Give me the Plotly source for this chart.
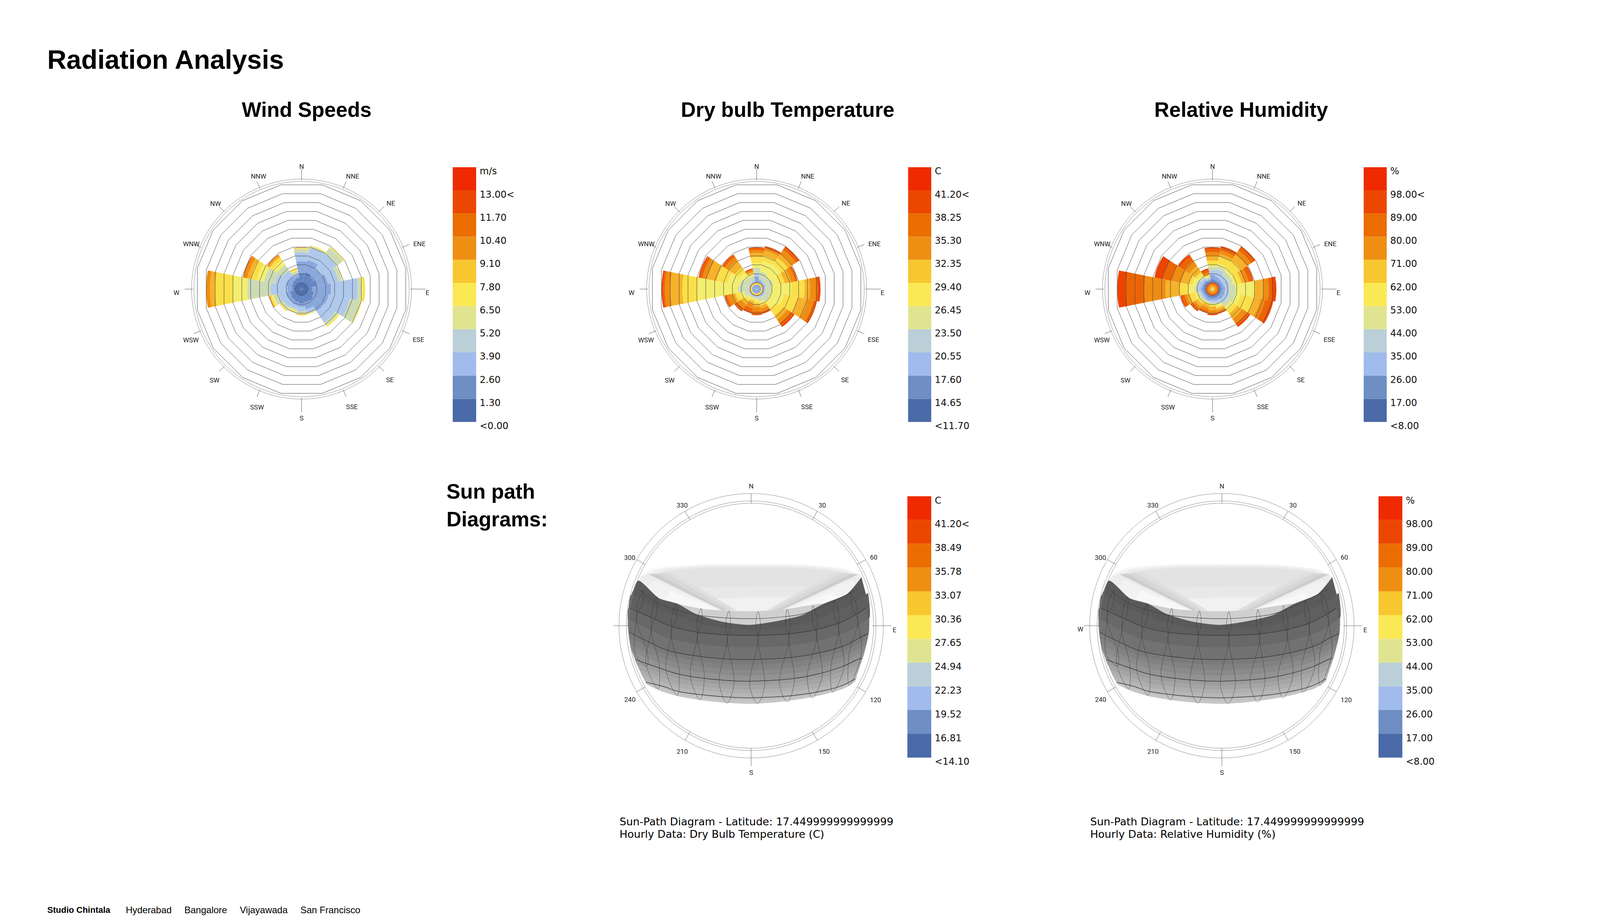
import numpy as np
import plotly.graph_objects as go

W = 4134
H = 2362

# directions clockwise from north
directions = ['N', 'NNE', 'NE', 'ENE', 'E', 'ESE', 'SE', 'SSE', 'S', 'SSW', 'SW', 'WSW', 'W', 'WNW', 'NW', 'NNW']
dir_theta = [22.5 * i for i in range(16)]

# colour classes used inside the roses, low to high
rose_colors = ['#4A6AA8', '#6486C4', '#8AA7DC', '#AFC8EC', '#CDDBB5', '#F3EE6E', '#FBDF48', '#F5B22A', '#EF8C12', '#EB6505', '#EC4400']
# colour blocks of the legends, low to high
legend_colors = ['#4A6AA8', '#6E8EC4', '#A0BBEC', '#BACFD8', '#E0E490', '#FAE855', '#F7C72F', '#EE8F14', '#EB6D00', '#EC4700', '#EF2A00']

# legend labels, bottom to top
wind_labels = ['<0.00', '1.30', '2.60', '3.90', '5.20', '6.50', '7.80', '9.10', '10.40', '11.70', '13.00<', 'm/s']
temp_labels = ['<11.70', '14.65', '17.60', '20.55', '23.50', '26.45', '29.40', '32.35', '35.30', '38.25', '41.20<', 'C']
hum_labels = ['<8.00', '17.00', '26.00', '35.00', '44.00', '53.00', '62.00', '71.00', '80.00', '89.00', '98.00<', '%']
sun_temp_labels = ['<14.10', '16.81', '19.52', '22.23', '24.94', '27.65', '30.36', '33.07', '35.78', '38.49', '41.20<', 'C']
sun_hum_labels = ['<8.00', '17.00', '26.00', '35.00', '44.00', '53.00', '62.00', '71.00', '80.00', '89.00', '98.00', '%']

# rose rings, counted from the centre
rings = list(range(1, 13))
ring_start = 0.28

# class drawn by each layer of a rose, centre outwards
wind_classes = [0, 1, 2, 3, 4, 5, 6, 7, 8, 9, 10]
temp_classes = [2, 6, 8, 2, 3, 4, 5, 6, 7, 8, 9, 10]
hum_classes = [6, 7, 8, 9, 10, 1, 2, 3, 4, 5, 6, 7, 8, 9, 10]

# outer edge of each layer per direction, in rings
wind_edges = [
    [1.0, 2.0, 3.4, 4.4, 4.8, 4.85, 4.9, 4.93, 4.95, 4.97, 4.97],
    [1.0, 2.2, 3.6, 5.0, 5.15, 5.2, 5.28, 5.28, 5.28, 5.28, 5.28],
    [1.0, 1.9, 3.0, 5.0, 5.85, 5.95, 6.03, 6.03, 6.03, 6.03, 6.03],
    [1.0, 2.0, 3.3, 4.5, 4.9, 4.93, 4.95, 4.97, 4.97, 4.97, 4.97],
    [1.0, 1.5, 3.6, 6.6, 7.0, 7.2, 7.43, 7.43, 7.43, 7.43, 7.43],
    [1.0, 1.7, 3.4, 5.8, 7.0, 7.1, 7.17, 7.17, 7.17, 7.17, 7.17],
    [1.0, 1.9, 3.3, 4.8, 5.2, 5.3, 5.41, 5.41, 5.41, 5.41, 5.41],
    [1.0, 1.8, 2.6, 3.0, 3.15, 3.2, 3.22, 3.22, 3.22, 3.22, 3.22],
    [1.0, 1.9, 2.3, 2.8, 3.0, 3.1, 3.15, 3.22, 3.22, 3.22, 3.22],
    [1.0, 1.8, 2.2, 2.6, 2.8, 2.9, 2.95, 3.0, 3.0, 3.0, 3.0],
    [1.0, 1.7, 2.1, 2.7, 3.05, 3.15, 3.22, 3.26, 3.26, 3.26, 3.26],
    [1.0, 1.6, 2.1, 2.9, 3.5, 3.7, 3.85, 3.95, 4.0, 4.0, 4.0],
    [1.0, 1.3, 1.9, 3.75, 6.4, 8.0, 10.0, 10.6, 11.03, 11.03, 11.03],
    [1.0, 1.4, 2.1, 3.3, 4.6, 5.4, 6.1, 6.5, 6.85, 7.0, 7.0],
    [1.0, 1.5, 2.0, 2.8, 3.6, 4.2, 4.6, 4.8, 4.9, 4.97, 4.97],
    [1.0, 1.6, 1.9, 2.1, 2.4, 2.5, 2.6, 2.65, 2.7, 2.7, 2.7],
]
temp_edges = [
    [0.8, 0.95, 1.05, 1.7, 2.0, 2.7, 3.2, 3.9, 4.35, 4.65, 4.85, 4.97],
    [0.8, 0.95, 1.05, 1.3, 1.5, 2.3, 3.5, 4.1, 4.7, 4.95, 5.1, 5.2],
    [0.8, 0.95, 1.05, 1.2, 1.35, 2.1, 3.6, 4.5, 5.0, 5.6, 5.9, 6.07],
    [0.8, 0.95, 1.05, 1.2, 1.35, 2.2, 2.9, 3.5, 4.2, 4.7, 4.9, 4.97],
    [0.8, 0.95, 1.05, 1.15, 1.25, 2.0, 4.2, 5.7, 6.3, 7.0, 7.2, 7.47],
    [0.8, 0.95, 1.05, 1.15, 1.3, 1.9, 3.4, 5.0, 6.1, 6.8, 7.1, 7.2],
    [0.8, 0.95, 1.05, 1.15, 1.3, 2.0, 3.0, 3.9, 4.4, 4.85, 5.2, 5.41],
    [0.8, 0.95, 1.05, 1.1, 1.2, 1.7, 1.95, 2.2, 2.5, 2.85, 3.05, 3.13],
    [0.8, 0.95, 1.05, 1.1, 1.2, 1.4, 1.65, 1.95, 2.3, 2.8, 3.15, 3.22],
    [0.8, 0.95, 1.05, 1.1, 1.2, 1.35, 1.5, 1.7, 2.05, 2.5, 2.9, 3.05],
    [0.8, 0.95, 1.05, 1.1, 1.2, 1.4, 1.7, 2.0, 2.4, 2.9, 3.2, 3.3],
    [0.8, 0.95, 1.05, 1.1, 1.2, 1.7, 2.2, 2.7, 3.05, 3.65, 3.85, 3.96],
    [0.8, 0.95, 1.05, 1.1, 1.2, 2.4, 6.95, 8.65, 9.97, 10.6, 10.8, 10.98],
    [0.8, 0.95, 1.05, 1.1, 1.2, 2.2, 3.6, 4.9, 6.0, 6.5, 6.8, 6.95],
    [0.8, 0.95, 1.05, 1.1, 1.2, 1.9, 2.6, 3.2, 4.1, 4.6, 4.85, 4.97],
    [0.8, 0.95, 1.05, 1.15, 1.3, 1.8, 2.0, 2.1, 2.25, 2.45, 2.6, 2.65],
]
hum_edges = [
    [0.4, 0.6, 0.8, 0.95, 1.05, 1.4, 1.9, 2.4, 2.8, 3.0, 3.5, 4.0, 4.45, 4.8, 4.97],
    [0.4, 0.6, 0.8, 0.95, 1.05, 1.3, 1.7, 2.5, 2.9, 3.2, 4.0, 4.3, 4.7, 5.05, 5.2],
    [0.4, 0.6, 0.8, 0.95, 1.05, 1.3, 1.6, 2.2, 2.7, 3.1, 4.1, 4.9, 5.5, 5.9, 6.07],
    [0.4, 0.6, 0.8, 0.95, 1.05, 1.3, 1.6, 2.2, 2.7, 3.0, 3.6, 3.95, 4.4, 4.85, 4.97],
    [0.4, 0.6, 0.8, 0.95, 1.05, 1.3, 1.7, 2.1, 2.9, 5.0, 5.05, 6.0, 6.6, 7.0, 7.47],
    [0.4, 0.6, 0.8, 0.95, 1.05, 1.3, 1.7, 2.2, 2.9, 3.5, 5.0, 5.8, 6.3, 6.95, 7.25],
    [0.4, 0.6, 0.8, 0.95, 1.05, 1.3, 1.7, 2.2, 2.7, 3.1, 3.6, 4.3, 4.9, 5.2, 5.41],
    [0.4, 0.6, 0.8, 0.95, 1.05, 1.3, 1.6, 1.9, 2.1, 2.3, 2.5, 2.75, 2.95, 3.05, 3.13],
    [0.4, 0.6, 0.8, 0.95, 1.05, 1.3, 1.55, 1.8, 1.95, 2.0, 2.25, 2.65, 2.95, 3.1, 3.22],
    [0.4, 0.6, 0.8, 0.95, 1.05, 1.3, 1.6, 1.75, 1.85, 1.95, 2.1, 2.4, 2.75, 2.95, 3.05],
    [0.4, 0.6, 0.8, 0.95, 1.05, 1.25, 1.5, 1.7, 1.9, 2.0, 2.3, 2.65, 3.0, 3.2, 3.3],
    [0.4, 0.6, 0.8, 0.95, 1.05, 1.25, 1.5, 1.7, 2.0, 2.3, 2.9, 3.2, 3.5, 3.8, 3.96],
    [0.4, 0.6, 0.8, 0.95, 1.05, 1.3, 1.6, 2.0, 2.3, 3.0, 3.96, 5.6, 7.95, 10.0, 11.0],
    [0.4, 0.6, 0.8, 0.95, 1.05, 1.3, 1.5, 1.9, 2.2, 2.6, 3.0, 3.9, 5.0, 6.0, 6.95],
    [0.4, 0.6, 0.8, 0.95, 1.05, 1.3, 1.5, 1.8, 2.0, 2.3, 2.6, 3.4, 4.1, 4.7, 4.97],
    [0.4, 0.6, 0.8, 0.95, 1.05, 1.25, 1.4, 1.55, 1.7, 1.8, 1.9, 2.0, 2.2, 2.5, 2.65],
]

# where the rose direction labels sit
rose_label_theta = [0, 24.5, 46.4, 69.3, 92, 113.6, 136, 157, 180, 200.6, 223.5, 245, 268, 292, 314.6, 339]
rose_label_dist = [313, 316, 316, 323, 323, 327, 326, 330, 333, 325, 324, 313, 321, 305, 310, 308]
rose_tick_end = [309, 299, 299, 299, 318, 299, 299, 299, 316, 299, 299, 299, 300, 299, 299, 299]

# sun path frame
sun_circles = [314, 320, 339]
sun_tick_theta = [0, 30, 60, 90, 120, 150, 180, 210, 240, 270, 300, 330]
sun_tick_start = [314, 314, 314, 311, 314, 314, 314, 314, 314, 315, 314, 314]
sun_tick_end = [339, 339, 339, 360, 339, 339, 360, 339, 339, 353, 339, 339]
sun_labels = ['N', '30', '60', 'E', '120', '150', 'S', '210', '240', 'W', '300', '330']
sun_label_theta = [0, 30.7, 61, 92, 121, 150, 180, 208.6, 238.4, 268.3, 299, 330]
sun_label_dist = [356, 357, 359, 368, 372, 374, 378, 369, 365, 363, 356, 354]

# sun path surface in zoomed pixels
fan_x = [[140, 200, 450, 760, 1080, 1310, 1390, 1400, 1100, 760, 345, 120],
         [165, 225, 450, 760, 1080, 1305, 1375, 1400, 1100, 760, 345, 120],
         [185, 245, 450, 760, 1080, 1290, 1355, 1400, 1100, 760, 345, 120],
         [205, 265, 450, 760, 1080, 1270, 1335, 1400, 1100, 760, 345, 120],
         [430, 760, 1100, 960, 760, 600],
         [520, 760, 1020, 940, 760, 600]]
fan_y = [[150, 105, 72, 65, 72, 105, 150, 170, 385, 430, 372, 195],
         [150, 112, 80, 73, 80, 112, 150, 170, 385, 430, 372, 195],
         [155, 120, 90, 83, 90, 120, 155, 170, 385, 430, 372, 195],
         [160, 130, 102, 95, 102, 130, 160, 170, 385, 430, 372, 195],
         [250, 240, 250, 425, 430, 425],
         [335, 325, 335, 428, 430, 428]]
fan_colors = ['#f7f7f7', '#f0f0f0', '#e9e9e9', '#e3e3e3', '#e8e8e8', '#f1f1f1']

shadow_x = [[190, 600, 680, 320], [185, 600, 650, 275], [180, 600, 620, 225],
            [1385, 940, 860, 1250], [1385, 940, 890, 1295], [1385, 940, 920, 1340]]
shadow_y = [[145, 420, 420, 130], [145, 420, 420, 135], [142, 420, 420, 142],
            [145, 420, 420, 130], [145, 420, 420, 135], [145, 420, 420, 142]]
shadow_colors = ['#dfdfdf', '#d7d7d7', '#cdcdcd', '#dfdfdf', '#d7d7d7', '#cdcdcd']

wing_x = [[175, 600, 480, 345, 240, 150, 122, 140], [210, 595, 480, 345, 240, 160], [300, 590, 480, 345, 280],
          [1385, 940, 1060, 1180, 1300, 1380, 1398], [1350, 950, 1060, 1180, 1300, 1370], [1240, 960, 1060, 1180, 1260]]
wing_y = [[142, 422, 408, 370, 328, 265, 195, 160], [190, 422, 408, 370, 328, 255], [270, 422, 408, 370, 342],
          [145, 422, 400, 372, 300, 225, 170], [190, 422, 400, 372, 300, 235], [285, 422, 400, 372, 325]]
wing_colors = ['#ececec', '#f2f2f2', '#f8f8f8', '#ececec', '#f2f2f2', '#f8f8f8']

lens_x = [345, 480, 620, 760, 930, 1100, 1180, 1060, 900, 755, 600, 450]
lens_y = [372, 410, 425, 430, 420, 385, 372, 460, 510, 535, 510, 450]

edge_x = [[120, 85, 65, 65, 68, 68], [1400, 1440, 1425, 1445, 1440, 1425]]
edge_y = [[195, 290, 430, 590, 590, 400], [170, 370, 400, 530, 600, 405]]

band_x = [
    [120, 240, 345, 450, 600, 755, 900, 1060, 1180, 1320, 1400],
    [83, 220, 330, 455, 615, 757, 940, 1100, 1230, 1340, 1438],
    [68, 200, 320, 460, 630, 760, 980, 1140, 1280, 1360, 1425],
    [65, 180, 300, 450, 640, 760, 990, 1160, 1300, 1380, 1445],
    [68, 180, 290, 440, 640, 760, 990, 1170, 1310, 1380, 1440],
    [74, 190, 310, 460, 645, 760, 995, 1170, 1305, 1385, 1433],
    [80, 200, 330, 480, 650, 760, 1000, 1170, 1300, 1390, 1425],
    [92, 215, 340, 490, 665, 760, 1010, 1170, 1295, 1385, 1415],
    [105, 230, 350, 500, 680, 760, 1020, 1170, 1290, 1380, 1405],
    [120, 235, 350, 500, 680, 765, 1020, 1175, 1290, 1375, 1395],
    [135, 240, 350, 500, 680, 770, 1020, 1180, 1290, 1370, 1385],
    [150, 250, 350, 500, 680, 770, 1020, 1190, 1290, 1360, 1375],
    [165, 260, 350, 500, 680, 770, 1020, 1200, 1290, 1350, 1365],
    [168, 255, 350, 490, 650, 765, 960, 1130, 1240, 1325, 1365],
    [170, 250, 350, 480, 620, 760, 900, 1060, 1190, 1300, 1365],
]
band_y = [
    [195, 330, 372, 450, 510, 535, 510, 460, 375, 295, 170],
    [300, 405, 460, 520, 560, 575, 556, 515, 445, 378, 290],
    [400, 480, 550, 590, 610, 615, 603, 570, 515, 460, 405],
    [500, 570, 640, 680, 705, 708, 695, 655, 600, 545, 480],
    [590, 665, 730, 770, 797, 800, 785, 745, 690, 640, 600],
    [645, 715, 775, 812, 838, 841, 825, 785, 732, 678, 645],
    [700, 765, 820, 855, 880, 883, 865, 825, 775, 715, 690],
    [750, 812, 866, 900, 922, 925, 905, 865, 815, 758, 740],
    [800, 860, 912, 945, 965, 967, 945, 905, 855, 800, 790],
    [845, 897, 948, 977, 997, 999, 978, 940, 892, 842, 830],
    [890, 935, 985, 1010, 1030, 1032, 1012, 975, 930, 885, 870],
    [932, 970, 1015, 1041, 1061, 1063, 1043, 1005, 965, 922, 910],
    [975, 1005, 1045, 1073, 1092, 1094, 1075, 1035, 1000, 960, 950],
    [982, 1022, 1062, 1091, 1111, 1116, 1102, 1068, 1032, 990, 958],
    [990, 1040, 1080, 1110, 1130, 1138, 1128, 1100, 1065, 1020, 965],
]
band_colors = ['#5a5a5a', '#5f5f5f', '#686868', '#727272', '#7a7a7a', '#828282', '#8a8a8a',
               '#939393', '#9c9c9c', '#a5a5a5', '#aeaeae', '#b6b6b6', '#bfbfbf', '#c6c6c6']
month_rows = [2, 4, 8, 12]

solstice_x = [130, 240, 370, 470, 630, 800, 960, 1060, 1200, 1385]
solstice_y = [270, 370, 430, 460, 480, 485, 470, 450, 380, 250]

# hour loops: top, crossing, belly sides, bottom
loop_top_x = [150, 228, 340, 482, 640, 808, 975, 1122, 1245, 1340]
loop_top_y = [268, 318, 368, 405, 425, 430, 415, 385, 345, 285]
loop_cross_x = [110, 195, 310, 460, 632, 808, 985, 1145, 1270, 1380]
loop_cross_y = [480, 570, 600, 620, 640, 640, 640, 620, 570, 500]
loop_left_x = [105, 165, 280, 420, 585, 760, 930, 1090, 1225, 1330]
loop_right_x = [175, 240, 355, 500, 670, 845, 1015, 1175, 1300, 1400]
loop_belly_y = [760, 830, 880, 930, 980, 1000, 980, 930, 860, 750]
loop_bottom_x = [170, 235, 345, 475, 630, 805, 975, 1118, 1235, 1330]
loop_bottom_y = [850, 1025, 1075, 1110, 1135, 1138, 1125, 1095, 1050, 1000]

fig = go.Figure()
layout = {}
axis_count = 0


def frac_x(x):
    return x / W


def frac_y(y):
    return 1 - y / H


def ring_r(dist):
    # distance from the centre to ring units
    return (dist + 6.4) / 22.8


def add_rose(n, cx, cy, edges, classes):
    reach = 360
    name = 'polar' if n == 1 else 'polar%d' % n
    layout[name] = dict(
        domain=dict(x=[frac_x(cx - reach), frac_x(cx + reach)], y=[frac_y(cy + reach), frac_y(cy - reach)]),
        bgcolor='rgba(0,0,0,0)',
        angularaxis=dict(rotation=90, direction='clockwise', showgrid=False, showticklabels=False, ticks='', showline=False),
        radialaxis=dict(range=[ring_start, ring_r(reach)], tickvals=[ring_r(276), ring_r(282)], showticklabels=False,
                        ticks='', showline=False, gridcolor='#8c8c8c', gridwidth=1),
        barmode='overlay',
    )
    edges = np.array(edges)
    inner = np.hstack([np.full((16, 1), ring_start), edges[:, :-1]])
    for j, c in enumerate(classes):
        fig.add_trace(go.Barpolar(r=edges[:, j] - inner[:, j], base=inner[:, j], theta=dir_theta, width=22.5,
                                  marker=dict(color=rose_colors[c], line=dict(width=0)), subplot=name,
                                  showlegend=False, hoverinfo='skip'))
    # polygon rings, flat towards each direction
    for k in rings:
        corner = ring_start + (k - ring_start) / np.cos(np.pi / 16)
        fig.add_trace(go.Scatterpolar(r=[corner] * 17, theta=[11.25 + 22.5 * i for i in range(17)], mode='lines',
                                      line=dict(color='#4a4a4a', width=1), subplot=name, showlegend=False, hoverinfo='skip'))
    spoke_r = []
    spoke_t = []
    for t, e in zip(dir_theta, rose_tick_end):
        spoke_r += [ring_r(279), ring_r(e), None]
        spoke_t += [t, t, None]
    fig.add_trace(go.Scatterpolar(r=spoke_r, theta=spoke_t, mode='lines', line=dict(color='#555555', width=1),
                                  subplot=name, showlegend=False, hoverinfo='skip'))
    fig.add_trace(go.Scatterpolar(r=[ring_r(d) for d in rose_label_dist], theta=rose_label_theta, mode='text', text=directions,
                                  textposition='middle center', textfont=dict(family='Roboto', size=17, color='#222222'),
                                  subplot=name, showlegend=False, hoverinfo='skip'))


def add_legend(x0, x1, y0, y1, labels):
    global axis_count
    axis_count += 1
    n = axis_count
    block = (y1 - y0) / 11
    low = -0.42
    layout['xaxis%d' % n] = dict(domain=[frac_x(x0), frac_x(x1)], range=[-0.5, 0.5], visible=False, anchor='y%d' % n)
    layout['yaxis%d' % n] = dict(domain=[frac_y(y1 - low * block), frac_y(y0)], range=[low, 11], anchor='x%d' % n, side='right',
                                 tickvals=[i - 0.17 for i in range(12)], ticktext=labels, showgrid=False, zeroline=False,
                                 showline=False, ticks='', ticklabelstandoff=8,
                                 tickfont=dict(family='DejaVu Sans', size=24, color='#111111'))
    fig.add_trace(go.Bar(x=[0] * 11, y=[1] * 11, base=list(range(11)), width=1, marker=dict(color=legend_colors, line=dict(width=0)),
                         xaxis='x%d' % n, yaxis='y%d' % n, showlegend=False, hoverinfo='skip'))


def zx(values):
    # zoomed pixels to distance from the sun path centre
    return [v / 2.24 - 343 for v in values]


def zy(values):
    return [180 - v / 3 for v in values]


def add_patch(xa, ya, xs, ys, color, smooth=False):
    line = dict(color=color, width=1)
    if smooth:
        line.update(shape='spline', smoothing=0.7)
    fig.add_trace(go.Scatter(x=zx(xs), y=zy(ys), mode='lines', fill='toself', fillcolor=color, line=line,
                             xaxis=xa, yaxis=ya, showlegend=False, hoverinfo='skip'))


def add_sun_path(n, cx, cy, show_west):
    global axis_count
    reach = 400
    axis_count += 1
    m = axis_count
    xa = 'x%d' % m
    ya = 'y%d' % m
    layout['xaxis%d' % m] = dict(domain=[frac_x(cx - reach), frac_x(cx + reach)], range=[-reach, reach], visible=False, anchor=ya)
    layout['yaxis%d' % m] = dict(domain=[frac_y(cy + reach), frac_y(cy - reach)], range=[-reach, reach], visible=False, anchor=xa)

    for xs, ys, c in zip(fan_x, fan_y, fan_colors):
        add_patch(xa, ya, xs, ys, c, smooth=True)
    for xs, ys, c in zip(shadow_x, shadow_y, shadow_colors):
        add_patch(xa, ya, xs, ys, c)
    for xs, ys, c in zip(wing_x, wing_y, wing_colors):
        add_patch(xa, ya, xs, ys, c)
    add_patch(xa, ya, lens_x, lens_y, '#cfcfcf', smooth=True)
    for xs, ys in zip(edge_x, edge_y):
        add_patch(xa, ya, xs, ys, '#606060')
    # each layer overlaps the next row, doubled corners keep the sides straight
    last = len(band_x) - 1
    for i, c in enumerate(band_colors):
        j = min(i + 2, last)
        xs = band_x[i] + band_x[i][-1:] + band_x[j][::-1] + band_x[j][:1] + band_x[i][:1]
        ys = band_y[i] + band_y[i][-1:] + band_y[j][::-1] + band_y[j][:1] + band_y[i][:1]
        add_patch(xa, ya, xs, ys, c, smooth=True)

    for i in month_rows:
        fig.add_trace(go.Scatter(x=zx(band_x[i]), y=zy(band_y[i]), mode='lines', line=dict(color='#3a3a3a', width=1.5, shape='spline'),
                                 xaxis=xa, yaxis=ya, showlegend=False, hoverinfo='skip'))
    fig.add_trace(go.Scatter(x=zx(solstice_x), y=zy(solstice_y), mode='lines', line=dict(color='#444444', width=1.2, shape='spline'),
                             xaxis=xa, yaxis=ya, showlegend=False, hoverinfo='skip'))

    for i in range(len(loop_top_x)):
        upper_y = (loop_top_y[i] + loop_cross_y[i]) / 2
        upper_x = (loop_top_x[i] + loop_cross_x[i]) / 2
        xs = [loop_top_x[i], upper_x - 14, loop_cross_x[i], loop_left_x[i], loop_bottom_x[i], loop_right_x[i], loop_cross_x[i], upper_x + 14, loop_top_x[i]]
        ys = [loop_top_y[i], upper_y, loop_cross_y[i], loop_belly_y[i], loop_bottom_y[i], loop_belly_y[i], loop_cross_y[i], upper_y, loop_top_y[i]]
        fig.add_trace(go.Scatter(x=zx(xs), y=zy(ys), mode='lines', line=dict(color='#333333', width=0.7, shape='spline'),
                                 xaxis=xa, yaxis=ya, showlegend=False, hoverinfo='skip'))

    name = 'polar%d' % n
    layout[name] = dict(
        domain=dict(x=[frac_x(cx - reach), frac_x(cx + reach)], y=[frac_y(cy + reach), frac_y(cy - reach)]),
        bgcolor='rgba(0,0,0,0)',
        angularaxis=dict(rotation=90, direction='clockwise', showgrid=False, showticklabels=False, ticks='', showline=False),
        radialaxis=dict(range=[0, reach], tickvals=sun_circles, showticklabels=False, ticks='', showline=False,
                        gridcolor='#8c8c8c', gridwidth=1),
    )
    spoke_r = []
    spoke_t = []
    for t, a, b in zip(sun_tick_theta, sun_tick_start, sun_tick_end):
        spoke_r += [a, b, None]
        spoke_t += [t, t, None]
    fig.add_trace(go.Scatterpolar(r=spoke_r, theta=spoke_t, mode='lines', line=dict(color='#666666', width=1),
                                  subplot=name, showlegend=False, hoverinfo='skip'))
    keep = [i for i, s in enumerate(sun_labels) if show_west or s != 'W']
    fig.add_trace(go.Scatterpolar(r=[sun_label_dist[i] for i in keep], theta=[sun_label_theta[i] for i in keep],
                                  text=[sun_labels[i] for i in keep], mode='text', textposition='middle center',
                                  textfont=dict(family='Roboto', size=17, color='#222222'),
                                  subplot=name, showlegend=False, hoverinfo='skip'))


add_rose(1, 772, 737, wind_edges, wind_classes)
add_rose(2, 1937, 737, temp_edges, temp_classes)
add_rose(3, 3104, 737, hum_edges, hum_classes)
add_legend(1159, 1219, 424.5, 1077.5, wind_labels)
add_legend(2324.5, 2384, 424.5, 1077.5, temp_labels)
add_legend(3491, 3550, 424.5, 1077.5, hum_labels)
add_legend(2322.6, 2384, 1268, 1938, sun_temp_labels)
add_legend(3529, 3590, 1268, 1938, sun_hum_labels)
add_sun_path(4, 1923, 1600, False)
add_sun_path(5, 3128, 1600, True)


def add_text(x, y, text, size, bold=False, family='Liberation Sans', anchor='left'):
    if bold:
        text = '<b>' + text + '</b>'
    return dict(x=frac_x(x), y=frac_y(y), xref='paper', yref='paper', text=text, showarrow=False, xanchor=anchor,
                yanchor='middle', align='left', font=dict(family=family, size=size, color='#000000'))


annotations = [
    add_text(119, 148, 'Radiation Analysis', 68, bold=True),
    add_text(785, 277, 'Wind Speeds', 53, bold=True, anchor='center'),
    add_text(2016, 277, 'Dry bulb Temperature', 53, bold=True, anchor='center'),
    add_text(3177, 277, 'Relative Humidity', 53, bold=True, anchor='center'),
    add_text(1141, 1256, 'Sun path', 53, bold=True),
    add_text(1141, 1327, 'Diagrams:', 53, bold=True),
    add_text(1584, 2102, 'Sun-Path Diagram - Latitude: 17.449999999999999', 27, family='DejaVu Sans'),
    add_text(1584, 2134, 'Hourly Data: Dry Bulb Temperature (C)', 27, family='DejaVu Sans'),
    add_text(2789, 2102, 'Sun-Path Diagram - Latitude: 17.449999999999999', 27, family='DejaVu Sans'),
    add_text(2789, 2134, 'Hourly Data: Relative Humidity (%)', 27, family='DejaVu Sans'),
    add_text(119, 2328, 'Studio Chintala', 22, bold=True),
    add_text(320, 2328, 'Hyderabad', 24),
    add_text(470, 2328, 'Bangalore', 24),
    add_text(612, 2328, 'Vijayawada', 24),
    add_text(767, 2328, 'San Francisco', 24),
]

fig.update_layout(width=W, height=H, margin=dict(l=0, r=0, t=0, b=0), paper_bgcolor='white', plot_bgcolor='rgba(0,0,0,0)',
                  barmode='overlay', showlegend=False, annotations=annotations, **layout)

fig.write_html("out.html", config={'displayModeBar': False}, post_script="document.body.style.margin='0';")
